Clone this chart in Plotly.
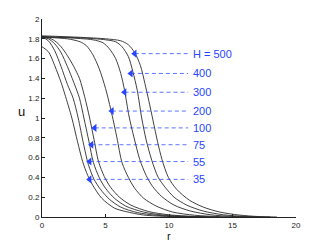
import plotly.graph_objects as go

# ---- data ----
H_labels = ["H = 500", "400", "300", "200", "100", "75", "55", "35"]

r_35 = [0, 0.5, 1.0, 1.5, 1.8, 2.35, 2.8, 3.2, 3.6, 4.0, 4.7, 5.7, 6.6, 8.0, 10.0, 12.0]
u_35 = [1.72, 1.67, 1.53, 1.36, 1.24, 1.0, 0.76, 0.56, 0.42, 0.32, 0.19, 0.09, 0.055, 0.02, 0.005, 0.0]

r_55 = [0, 0.5, 1.0, 1.5, 2.0, 2.45, 2.85, 3.25, 3.65, 4.1, 4.6, 5.3, 6.2, 7.5, 9.0, 11.0, 13.0]
u_55 = [1.82, 1.78, 1.68, 1.52, 1.34, 1.2, 1.0, 0.75, 0.53, 0.38, 0.28, 0.18, 0.1, 0.045, 0.018, 0.004, 0.0]

r_75 = [0, 0.5, 1.0, 1.5, 2.0, 2.5, 2.95, 3.3, 3.7, 4.05, 4.5, 5.0, 5.7, 6.6, 8.0, 9.5, 11.5, 13.5]
u_75 = [1.82, 1.80, 1.75, 1.66, 1.52, 1.36, 1.2, 1.0, 0.76, 0.55, 0.4, 0.29, 0.19, 0.11, 0.05, 0.02, 0.005, 0.0]

r_100 = [0, 0.5, 1.0, 1.5, 2.0, 2.5, 2.95, 3.35, 3.75, 4.1, 4.45, 4.9, 5.4, 6.1, 7.0, 8.4, 10.0, 12.0, 14.0]
u_100 = [1.82, 1.81, 1.78, 1.72, 1.63, 1.52, 1.4, 1.22, 1.0, 0.78, 0.56, 0.41, 0.3, 0.2, 0.12, 0.055, 0.022, 0.006, 0.0]

r_200 = [0, 1, 2, 3, 3.5, 4.0, 4.5, 5.0, 5.5, 5.9, 6.3, 6.8, 7.3, 8.0, 9.0, 10.3, 12.0, 14.0, 16.0]
u_200 = [1.82, 1.81, 1.80, 1.77, 1.73, 1.64, 1.5, 1.3, 1.04, 0.8, 0.55, 0.4, 0.29, 0.19, 0.11, 0.05, 0.018, 0.004, 0.0]

r_300 = [0, 2, 4, 4.8, 5.3, 5.8, 6.2, 6.5, 6.85, 7.25, 7.7, 8.2, 8.7, 9.4, 10.4, 11.7, 13.3, 15.0, 17.0]
u_300 = [1.82, 1.81, 1.79, 1.76, 1.70, 1.60, 1.45, 1.28, 1.02, 0.8, 0.58, 0.42, 0.31, 0.21, 0.12, 0.06, 0.022, 0.006, 0.0]

r_400 = [0, 3, 5, 5.8, 6.3, 6.8, 7.15, 7.5, 7.85, 8.2, 8.65, 9.15, 9.7, 10.4, 11.4, 12.7, 14.3, 16.0, 18.0]
u_400 = [1.82, 1.81, 1.79, 1.77, 1.72, 1.62, 1.47, 1.28, 1.0, 0.78, 0.57, 0.4, 0.3, 0.2, 0.12, 0.06, 0.022, 0.006, 0.0]

r_500 = [0, 3, 5, 6.2, 6.8, 7.3, 7.75, 8.1, 8.4, 8.75, 9.1, 9.45, 9.95, 10.6, 11.6, 12.7, 14.0, 15.5, 17.0, 18.5]
u_500 = [1.83, 1.815, 1.80, 1.78, 1.74, 1.66, 1.53, 1.35, 1.18, 0.97, 0.76, 0.58, 0.4, 0.28, 0.17, 0.1, 0.05, 0.02, 0.005, 0.0]

curves = [(r_35, u_35), (r_55, u_55), (r_75, u_75), (r_100, u_100),
          (r_200, u_200), (r_300, u_300), (r_400, u_400), (r_500, u_500)]

arrow_r = [7.3, 7.0, 6.5, 5.5, 4.15, 3.9, 3.75, 3.75]
arrow_u = [1.65, 1.45, 1.26, 1.07, 0.90, 0.73, 0.56, 0.38]
label_r = 11.75
dash_end_r = 11.5

x_ticks = [0, 5, 10, 15, 20]
y_ticks = [0, 0.2, 0.4, 0.6, 0.8, 1, 1.2, 1.4, 1.6, 1.8, 2]
y_ticktext = ["0", "0.2", "0.4", "0.6", "0.8", "1", "1.2", "1.4", "1.6", "1.8", "2"]

BLUE = "rgb(40,70,255)"
FONT = "Liberation Sans, Arial, sans-serif"

fig = go.Figure()
for r, u in curves:
    fig.add_trace(go.Scatter(x=r, y=u, mode="lines",
                             line=dict(color="#2a2a2a", width=0.9, shape="spline", smoothing=0.8),
                             hoverinfo="skip", showlegend=False))

for ar, au, lab in zip(arrow_r, arrow_u, H_labels):
    fig.add_trace(go.Scatter(x=[ar, dash_end_r], y=[au, au], mode="lines",
                             line=dict(color=BLUE, width=1, dash="4px,3px"),
                             opacity=0.75, hoverinfo="skip", showlegend=False))
    fig.add_trace(go.Scatter(x=[ar], y=[au], mode="markers",
                             marker=dict(symbol="triangle-left", size=7, color=BLUE,
                                         line=dict(width=0)),
                             hoverinfo="skip", showlegend=False))
    fig.add_annotation(x=label_r, y=au, text=lab, showarrow=False,
                       xanchor="left", yanchor="middle",
                       font=dict(family=FONT, size=11, color=BLUE))

fig.update_layout(
    width=327, height=245,
    margin=dict(l=42, r=31, t=19, b=28, autoexpand=False),
    paper_bgcolor="white", plot_bgcolor="white",
    font=dict(family=FONT, size=8, color="#222"),
    xaxis=dict(range=[0, 20], tickvals=x_ticks, ticks="inside", ticklen=3,
               tickcolor="#222", showline=True, linecolor="#222", linewidth=1,
               showgrid=False, zeroline=False, mirror=False, automargin=False,
               tickfont=dict(size=8, color="#222")),
    yaxis=dict(range=[0, 2], tickvals=y_ticks, ticktext=y_ticktext, ticks="inside",
               ticklen=3, tickcolor="#222", showline=True, linecolor="#222",
               linewidth=1, showgrid=False, zeroline=False, mirror=False, automargin=False,
               tickfont=dict(size=8, color="#222")),
)
# axis titles placed like the reference: "u" unrotated at left, "r" under the axis
fig.add_annotation(x=-0.08, y=0.535, xref="paper", yref="paper", text="u",
                   showarrow=False, xanchor="center", yanchor="middle",
                   font=dict(family=FONT, size=13, color="#111"))
fig.add_annotation(x=0.5, y=-0.095, xref="paper", yref="paper", text="r",
                   showarrow=False, xanchor="center", yanchor="middle",
                   font=dict(family=FONT, size=11, color="#111"))

fig.write_html("out.html",
               config={"displayModeBar": False},
               post_script="document.body.style.margin='0';document.body.style.padding='0';")
